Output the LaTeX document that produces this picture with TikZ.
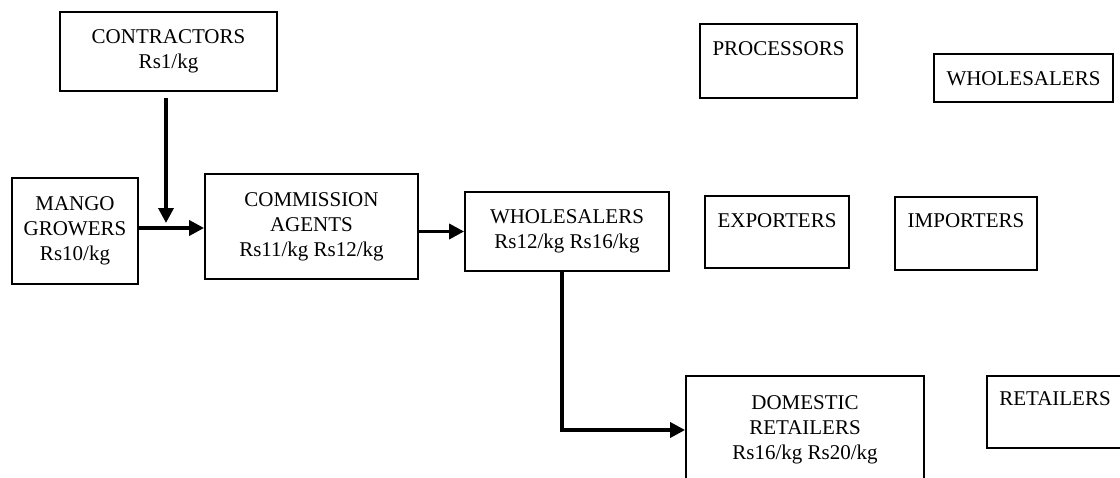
\documentclass[tikz,border=0pt]{standalone}
\usepackage{fontspec}
\setmainfont{Liberation Serif}
\usetikzlibrary{arrows.meta}
\tikzset{
	box/.style={draw,line width=1.8pt,align=center,font=\fontsize{21}{25}\selectfont},
	topbox/.style={box,text height=15pt,text depth=27pt},
	arr/.style={line width=3.5pt,-{Triangle[length=15pt,width=15pt]}}
}
\begin{document}
\begin{tikzpicture}[x=1pt,y=-1pt]
	\useasboundingbox (0,0) rectangle (1120,477); \clip (0,0) rectangle (1120,477);
	%\draw[step=20,gray!20] (0,0) grid (1120,477); %help grid
	\node[box,minimum width=217pt,minimum height=79pt] (CON) at (168.5,51.5) {CONTRACTORS\\Rs1/kg};
	\node[box,minimum width=126pt,minimum height=106pt] (MAN) at (75,231) {MANGO\\GROWERS\\Rs10/kg};
	\node[box,minimum width=213pt,minimum height=105pt] (COM) at (311.5,226.5) {COMMISSION\\AGENTS\\Rs11/kg Rs12/kg};
	\node[box,minimum width=204pt,minimum height=79pt] (WHO) at (567,231.5) {WHOLESALERS\\Rs12/kg Rs16/kg};
	\node[box,minimum width=238pt,minimum height=108pt] (DOM) at (805,430) {DOMESTIC\\RETAILERS\\Rs16/kg Rs20/kg};
	
	\node[topbox,minimum width=157pt,minimum height=74pt] (PRO) at (778.5,61) {PROCESSORS};
	\node[box,text height=15pt,text depth=0pt,minimum width=179pt,minimum height=48pt] (WHS) at (1023.5,78) {WHOLESALERS};
	\node[topbox,text depth=25pt,minimum width=144pt,minimum height=72pt] (EXP) at (777,232) {EXPORTERS};
	\node[topbox,text depth=28pt,minimum width=142pt,minimum height=73pt] (IMP) at (966,233.5) {IMPORTERS};
	\node[topbox,text depth=29pt,minimum width=136pt,minimum height=72pt] (RET) at (1055,412) {RETAILERS};
	
	\coordinate (jn) at (166,228);
	\draw[arr,shorten <=6pt,shorten >=5pt] (jn |- CON.south) -- (jn);
	\draw[arr] (MAN.east |- jn) -- (COM.west |- jn);
	\draw[arr] (COM.east |- WHO.west) -- (WHO.west);
	\draw[arr] ([xshift=-5pt]WHO.south) |- (DOM.west);
\end{tikzpicture}
\end{document}
